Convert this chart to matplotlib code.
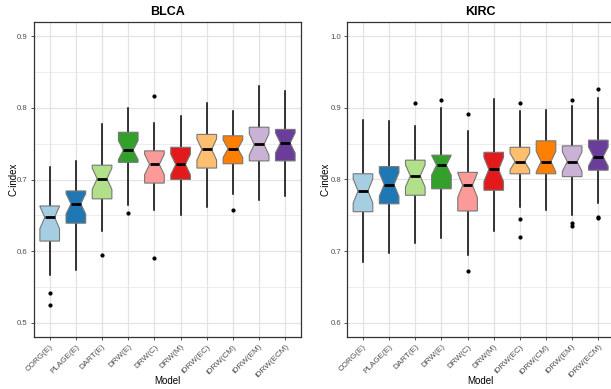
import matplotlib
matplotlib.use("Agg")
import matplotlib.pyplot as plt
import numpy as np

plt.rcParams['font.family'] = ['Liberation Sans', 'DejaVu Sans']

models = ["CORG(E)", "PLAGE(E)", "DART(E)", "DRW(E)", "DRW(C)", "DRW(M)",
          "iDRW(EC)", "iDRW(CM)", "iDRW(EM)", "iDRW(ECM)"]
colors = ["#A6CEE3", "#1F78B4", "#B2DF8A", "#33A02C", "#FB9A99", "#E31A1C",
          "#FDBF6F", "#FF7F00", "#CAB2D6", "#6A3D9A"]

# BLCA summary statistics
blca_whishi = [0.718, 0.726, 0.778, 0.800, 0.779, 0.789, 0.807, 0.796, 0.831, 0.823]
blca_q3     = [0.663, 0.684, 0.720, 0.766, 0.740, 0.745, 0.763, 0.761, 0.773, 0.770]
blca_med    = [0.647, 0.666, 0.701, 0.741, 0.721, 0.721, 0.742, 0.743, 0.749, 0.751]
blca_q1     = [0.614, 0.639, 0.673, 0.724, 0.695, 0.700, 0.716, 0.722, 0.726, 0.726]
blca_whislo = [0.566, 0.574, 0.628, 0.664, 0.657, 0.650, 0.661, 0.680, 0.672, 0.677]
blca_fliers = [[0.542, 0.525], [], [0.594], [0.653], [0.816, 0.590], [], [], [0.657], [], []]

# KIRC summary statistics
kirc_whishi = [0.883, 0.882, 0.875, 0.900, 0.868, 0.913, 0.895, 0.897, 0.903, 0.914]
kirc_q3     = [0.808, 0.818, 0.827, 0.834, 0.810, 0.838, 0.845, 0.854, 0.847, 0.855]
kirc_med    = [0.784, 0.793, 0.805, 0.820, 0.792, 0.814, 0.825, 0.825, 0.825, 0.832]
kirc_q1     = [0.755, 0.766, 0.778, 0.787, 0.756, 0.785, 0.808, 0.808, 0.804, 0.813]
kirc_whislo = [0.685, 0.698, 0.711, 0.718, 0.695, 0.728, 0.761, 0.757, 0.750, 0.767]
kirc_fliers = [[], [], [0.907], [0.911], [0.892, 0.672], [], [0.907, 0.745, 0.720], [],
               [0.911, 0.739, 0.735], [0.927, 0.747, 0.746]]

n_runs = 25  # estimated sample size used for notch width

W, H = 611, 389
fig = plt.figure(figsize=(W / 100, H / 100), dpi=100)
fig.patch.set_facecolor("white")

grid_col = "#E3E3E3"
text_col = "#4D4D4D"
border_col = "#333333"


def make_stats(whislo, q1, med, q3, whishi, fliers):
    stats = []
    for i in range(len(med)):
        iqr = q3[i] - q1[i]
        half = 1.58 * iqr / np.sqrt(n_runs)
        half = min(half, med[i] - q1[i], q3[i] - med[i])
        stats.append(dict(med=med[i], q1=q1[i], q3=q3[i], whislo=whislo[i],
                          whishi=whishi[i], fliers=fliers[i],
                          cilo=med[i] - half, cihi=med[i] + half))
    return stats


def panel(rect, title, stats, ylim, yticks, ylab_x):
    ax = fig.add_axes(rect)
    ax.set_facecolor("white")
    pos = np.arange(1, len(models) + 1)

    bp = ax.bxp(stats, positions=pos, widths=0.75, shownotches=True,
                showcaps=False, patch_artist=True, manage_ticks=False,
                boxprops=dict(edgecolor="#777777", linewidth=0.8),
                whiskerprops=dict(color="black", linewidth=1.1),
                medianprops=dict(color="black", linewidth=2.0),
                flierprops=dict(marker="o", markerfacecolor="black",
                                markeredgecolor="black", markersize=2.0,
                                linestyle="none"))
    for patch, c in zip(bp["boxes"], colors):
        patch.set_facecolor(c)
        patch.set_zorder(3)
    for w in bp["whiskers"]:
        w.set_zorder(2)
    for m in bp["medians"]:
        m.set_zorder(4)

    ax.set_xlim(0.4, len(models) + 0.6)
    ax.set_ylim(*ylim)
    ax.set_yticks(yticks)
    ax.set_yticklabels([f"{t:.1f}" for t in yticks])
    minor = [t + 0.05 for t in yticks[:-1]]
    ax.set_yticks(minor, minor=True)
    ax.set_xticks(pos)
    ax.set_xticklabels(models, rotation=45, ha="right", va="top",
                       rotation_mode="anchor", fontsize=5.9)
    ax.tick_params(axis="both", which="major", length=2.5, width=0.6,
                   color=border_col, labelcolor=text_col, pad=2)
    ax.tick_params(axis="y", which="major", labelsize=5.6)
    ax.tick_params(axis="y", which="minor", length=0)
    ax.grid(True, which="major", color=grid_col, lw=0.9, zorder=0)
    ax.grid(True, which="minor", axis="y", color=grid_col, lw=0.45, zorder=0)
    ax.set_axisbelow(True)
    for s in ax.spines.values():
        s.set_color(border_col)
        s.set_linewidth(0.9)

    ax.set_title(title, fontsize=9, fontweight="bold", pad=5)
    ax.set_xlabel("Model", fontsize=7)
    ax.xaxis.set_label_coords(0.5, -0.125)
    ax.set_ylabel("C-index", fontsize=7)
    ax.yaxis.set_label_coords(ylab_x, 0.5)
    return ax


bottom = (H - 337) / H
top = (H - 22) / H
panel([34 / W, bottom, (301 - 34) / W, top - bottom], "BLCA",
      make_stats(blca_whislo, blca_q1, blca_med, blca_q3, blca_whishi, blca_fliers),
      (0.48, 0.92), [0.5, 0.6, 0.7, 0.8, 0.9], -0.058)
panel([347.3 / W, bottom, (614 - 347.3) / W, top - bottom], "KIRC",
      make_stats(kirc_whislo, kirc_q1, kirc_med, kirc_q3, kirc_whishi, kirc_fliers),
      (0.58, 1.02), [0.6, 0.7, 0.8, 0.9, 1.0], -0.062)

fig.savefig("out.png", dpi=100)
